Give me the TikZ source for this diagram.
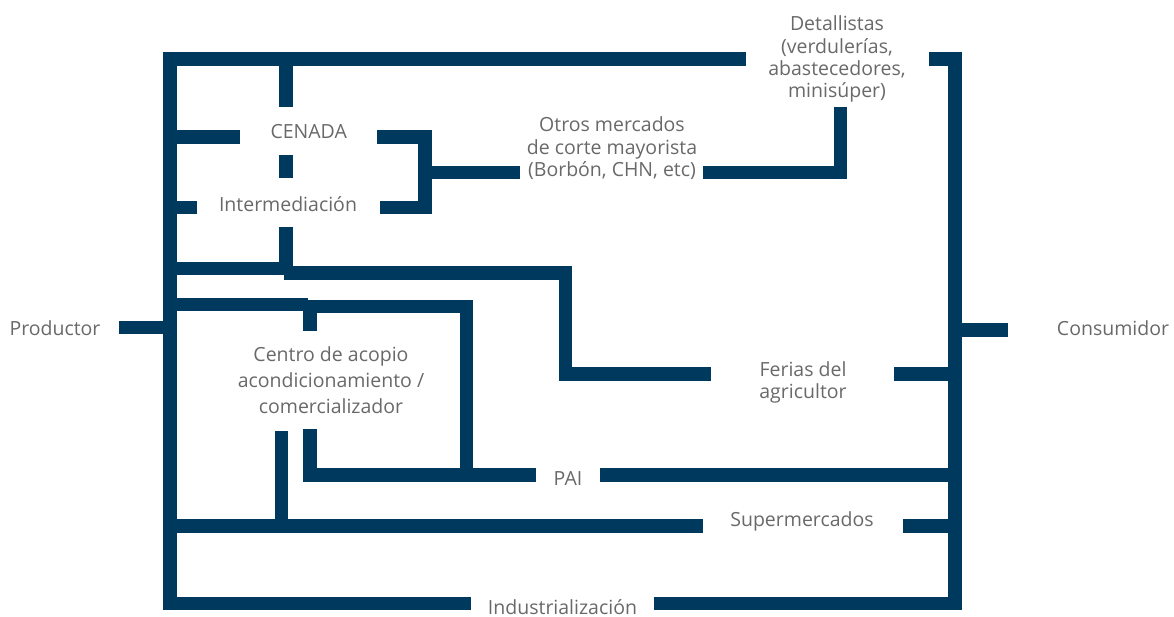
\documentclass[tikz,border=0pt]{standalone}
\usepackage{fontspec}
\setmainfont{Open Sans}
\definecolor{pipeblue}{RGB}{0,57,94}
\definecolor{txtgray}{RGB}{105,105,105}
\begin{document}
\begin{tikzpicture}[x=1pt,y=-1pt,
  pipeline/.style={draw=pipeblue,line width=13.3pt,line join=miter,line cap=butt},
  lblbase/.style={inner sep=0pt,anchor=north,align=center,text=txtgray},
  lbl/.style={lblbase,font=\fontsize{19.5}{22.3}\selectfont,yshift=15.61pt},
  lblw/.style={lblbase,font=\fontsize{19.5}{26}\selectfont,yshift=18.2pt}]
\useasboundingbox (0,0) rectangle (1174,617);

% labels
\node[lbl] (det) at (837,30.7) {\strut Detallistas\\(verdulerías,\\abastecedores,\\minisúper)};
\node[lbl] (otros) at (612,131.7) {\strut Otros mercados\\de corte mayorista\\(Borbón, CHN, etc)};
\node[lbl] (cenada) at (308.7,138.3) {\strut CENADA};
\node[lbl] (inter) at (288,211.7) {\strut Intermediación};
\node[lblw] (centro) at (331,361) {\strut Centro de acopio\\acondicionamiento /\\comercializador};
\node[lbl] (ferias) at (803,376) {\strut Ferias del\\agricultor};
\node[lbl] (pai) at (568,485.7) {\strut PAI};
\node[lbl] (super) at (802,526.7) {\strut Supermercados};
\node[lbl] (indus) at (562.5,614.3) {\strut Industrialización};
\node[lbl] (prod) at (55,335.7) {\strut Productor};
\node[lbl] (cons) at (1113,335.7) {\strut Consumidor};

% coordinates
\coordinate (indL) at (470.8,603.3);
\coordinate (tlc) at (170,59);
\coordinate (detL) at (745.7,59);
\coordinate (detR) at (929,59);
\coordinate (trc) at (955,59);
\coordinate (indR) at (654,603.3);
\coordinate (cenTop) at (286,106.7);
\coordinate (cenTopJ) at (286,59);
\coordinate (cenLJ) at (170,137);
\coordinate (cenL) at (240,137);
\coordinate (cenR) at (377.3,137);
\coordinate (brTop) at (425,137);
\coordinate (intR) at (380,207.7);
\coordinate (brMid) at (425,172.2);
\coordinate (otrL) at (520,172.2);
\coordinate (otrR) at (702.7,172.2);
\coordinate (detB) at (840.5,107.3);
\coordinate (midT) at (286,155);
\coordinate (midB) at (286,178.3);
\coordinate (intLJ) at (170,207.7);
\coordinate (intL) at (196.7,207.7);
\coordinate (intB) at (286,227.3);
\coordinate (intBJ) at (286,275);
\coordinate (h1L) at (170,268.3);
\coordinate (h1R) at (292.7,268.3);
\coordinate (h2L) at (284.3,273);
\coordinate (ferC) at (565.7,273);
\coordinate (ferL) at (711,374);
\coordinate (ferR) at (894,374);
\coordinate (ferJ) at (955,374);
\coordinate (conJ) at (955,330);
\coordinate (conL) at (1008.3,330);
\coordinate (proR) at (119.3,327.3);
\coordinate (proJ) at (170,327.3);
\coordinate (boxTL) at (170,304.7);
\coordinate (boxTM) at (308.3,304.7);
\coordinate (boxT2) at (303,306.7);
\coordinate (boxC) at (466.7,306.7);
\coordinate (boxB) at (466.7,475);
\coordinate (cenStubT) at (310,304.7);
\coordinate (cenStubB) at (310,330.7);
\coordinate (cenB1) at (281.3,431);
\coordinate (cenB1J) at (281.3,526);
\coordinate (cenB2) at (310,429);
\coordinate (paiL) at (536,475);
\coordinate (paiR) at (600,475);
\coordinate (paiJ) at (955,475);
\coordinate (supLJ) at (170,526);
\coordinate (supL) at (702.7,526);
\coordinate (supR) at (902.7,526);
\coordinate (supJ) at (955,526);

% pipes
\draw[pipeline] (indL) -| (tlc) -- (detL);
\draw[pipeline] (detR) -- (trc) |- (indR);
\draw[pipeline] (cenTopJ) -- (cenTop);
\draw[pipeline] (cenLJ) -- (cenL);
\draw[pipeline] (cenR) -- (brTop) |- (intR);
\draw[pipeline] (brMid) -- (otrL);
\draw[pipeline] (otrR) -| (detB);
\draw[pipeline] (midT) -- (midB);
\draw[pipeline] (intLJ) -- (intL);
\draw[pipeline] (intB) -- (intBJ);
\draw[pipeline] (h1L) -- (h1R);
\draw[pipeline] (h2L) -- (ferC) |- (ferL);
\draw[pipeline] (ferR) -- (ferJ);
\draw[pipeline] (conJ) -- (conL);
\draw[pipeline] (proR) -- (proJ);
\draw[pipeline] (boxTL) -- (boxTM);
\draw[pipeline] (boxT2) -- (boxC) -- (boxB);
\draw[pipeline] (cenStubT) -- (cenStubB);
\draw[pipeline] (cenB1) -- (cenB1J);
\draw[pipeline] (cenB2) |- (paiL);
\draw[pipeline] (paiR) -- (paiJ);
\draw[pipeline] (supLJ) -- (supL);
\draw[pipeline] (supR) -- (supJ);
\end{tikzpicture}
\end{document}
